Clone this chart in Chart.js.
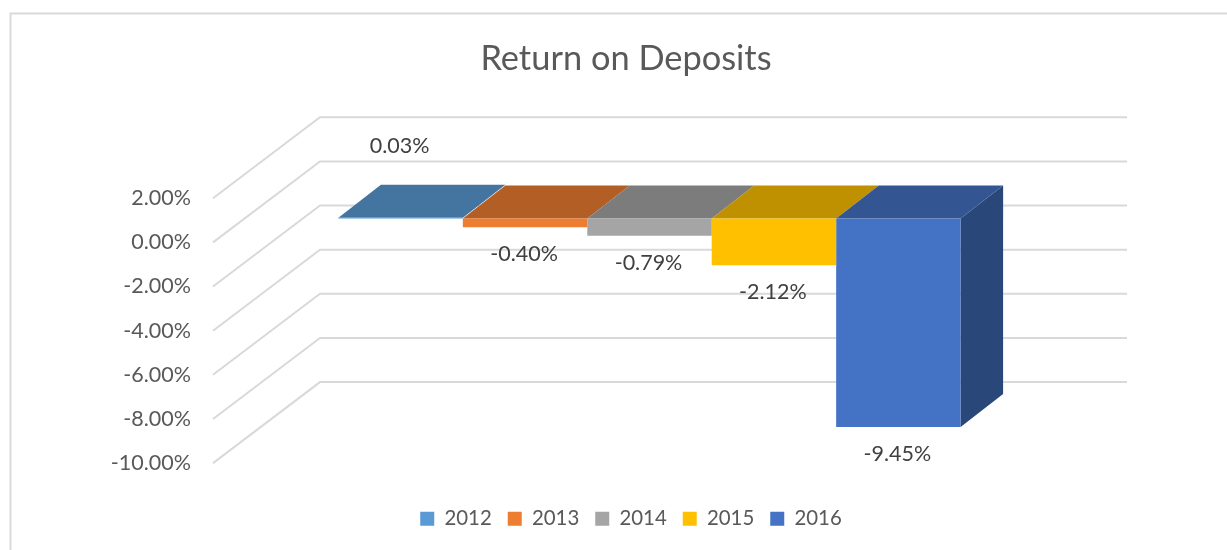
<!DOCTYPE html>
<html>
<head>
<meta charset="utf-8">
<title>Return on Deposits</title>
<script src="https://cdn.jsdelivr.net/npm/chart.js@4/dist/chart.umd.min.js"></script>
<style>
  html, body { margin: 0; background: #fff; }
  canvas { display: block; }
</style>
</head>
<body>
<canvas id="chart" width="1227" height="550"></canvas>
<script>
    const years = ["2012", "2013", "2014", "2015", "2016"];
    const returns = [0.03, -0.40, -0.79, -2.12, -9.45];
    const categories = ["Return on Deposits"];

    const colors = ["#5b9bd5", "#ed7d31", "#a5a5a5", "#ffc000", "#4472c4"];
    const fontName = "Lato, 'Open Sans', sans-serif";

    // the fake 3D: floor depth, bar position inside it, bar depth
    const floor = { dx: 107, dy: -81 };
    const barShift = { dx: 33, dy: -24 };
    const barDepth = { dx: 42.5, dy: -33 };

    const shade = (hex, k) => {
      const n = parseInt(hex.slice(1), 16);
      return `rgb(${(n >> 16) * k}, ${((n >> 8) & 255) * k}, ${(n & 255) * k})`;
    };

    const poly = (ctx, color, pts) => {
      ctx.fillStyle = color;
      ctx.beginPath();
      pts.forEach((p, i) => (i ? ctx.lineTo(p[0], p[1]) : ctx.moveTo(p[0], p[1])));
      ctx.closePath();
      ctx.fill();
    };

    const fake3d = {
      id: "fake3d",
      afterLayout(chart) {
        // legend sits a bit right of the title in the reference
        chart.legend.left += 5;
        chart.legend.right += 5;
      },
      beforeDraw(chart) {
        // outer frame, only top and left are in the picture
        const ctx = chart.ctx;
        ctx.save();
        ctx.strokeStyle = "#d9d9d9";
        ctx.lineWidth = 2;
        ctx.beginPath();
        ctx.moveTo(10.5, 550);
        ctx.lineTo(10.5, 13.5);
        ctx.lineTo(1227, 13.5);
        ctx.stroke();
        ctx.restore();
      },
      beforeDatasetsDraw(chart) {
        const ctx = chart.ctx;
        const area = chart.chartArea;
        const y = chart.scales.y;

        ctx.save();
        ctx.strokeStyle = "#d9d9d9";
        ctx.lineWidth = 2;
        y.ticks.forEach(t => {
          const py = y.getPixelForValue(t.value);
          ctx.beginPath();
          ctx.moveTo(area.left, py);
          ctx.lineTo(area.left + floor.dx, py + floor.dy);
          ctx.lineTo(area.right + floor.dx, py + floor.dy);
          ctx.stroke();
        });
        ctx.restore();

        // restored in afterDatasetsDraw, so the library's bars land in the middle of the floor
        ctx.save();
        ctx.translate(barShift.dx, barShift.dy);

        const bars = years.map((_, i) => chart.getDatasetMeta(i).data[0]);
        bars.forEach((b, i) => {
          // a deeper bar next to it hides this side, drawing it only leaves a seam
          if (bars[i + 1] && bars[i + 1].y >= b.y) return;
          const r = b.x + b.width / 2;
          poly(ctx, shade(colors[i], 0.62), [
            [r, b.base], [r + barDepth.dx, b.base + barDepth.dy],
            [r + barDepth.dx, b.y + barDepth.dy], [r, b.y]
          ]);
        });
        bars.forEach((b, i) => {
          const l = b.x - b.width / 2;
          const r = b.x + b.width / 2;
          const top = Math.min(b.y, b.base);
          poly(ctx, shade(colors[i], 0.75), [
            [l, top], [l + barDepth.dx, top + barDepth.dy],
            [r + barDepth.dx, top + barDepth.dy], [r, top]
          ]);
        });
      },
      afterDatasetsDraw(chart) {
        const ctx = chart.ctx;
        ctx.restore();

        ctx.save();
        ctx.fillStyle = "#404040";
        ctx.font = "21.5px " + fontName;
        ctx.textAlign = "center";
        ctx.textBaseline = "middle";
        returns.forEach((v, i) => {
          const b = chart.getDatasetMeta(i).data[0];
          const off = v < 0 ? 27 : -72;
          ctx.fillText(v.toFixed(2) + "%", b.x + barShift.dx - 1, b.y + barShift.dy + off);
        });
        ctx.restore();
      }
    };

    new Chart(document.getElementById("chart"), {
      type: "bar",
      data: {
        labels: categories,
        datasets: years.map((year, i) => ({
          label: year,
          data: [returns[i]],
          backgroundColor: colors[i],
          borderWidth: 0,
          clip: false
        }))
      },
      options: {
        responsive: false,
        animation: false,
        categoryPercentage: 0.771,
        barPercentage: 1,
        layout: { padding: { left: 25, right: 0, top: 0, bottom: 11 } },
        scales: {
          x: {
            grid: { display: false },
            border: { display: false },
            ticks: { display: false },
            afterFit: s => { s.height = 29.5; }
          },
          y: {
            min: -10,
            max: 2,
            grid: { display: false, drawTicks: false },
            border: { display: false },
            ticks: {
              stepSize: 2,
              padding: 22,
              color: "#595959",
              font: { family: fontName, size: 21.5 },
              callback: v => v.toFixed(2) + "%"
            },
            afterFit: s => { s.width = 188; }
          },
          // empty axis, keeps the plot clear of the right side without moving title and legend
          spacer: {
            position: "right",
            grid: { display: false, drawTicks: false },
            border: { display: false },
            ticks: { display: false },
            afterFit: s => { s.width = 207; }
          }
        },
        plugins: {
          title: {
            display: true,
            text: "Return on Deposits",
            color: "#595959",
            font: { family: fontName, size: 34.4, weight: "normal" },
            padding: { top: 38.5, bottom: 118.5 }
          },
          legend: {
            position: "bottom",
            labels: {
              boxWidth: 14,
              boxHeight: 14,
              padding: 16,
              color: "#595959",
              font: { family: fontName, size: 20.4 }
            }
          },
          tooltip: { enabled: false }
        }
      },
      plugins: [fake3d]
    });
</script>
</body>
</html>
